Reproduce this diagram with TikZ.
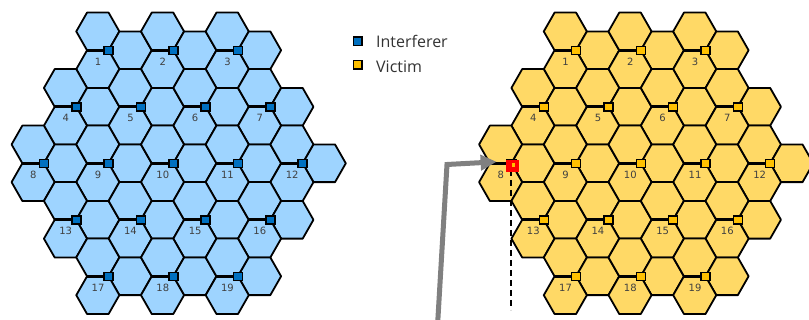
\documentclass[tikz,border=0pt]{standalone}
\usepackage{fontspec}
\setmainfont{DejaVu Sans}
\newfontfamily\legendfont{Open Sans}
\usetikzlibrary{arrows.meta}
\definecolor{cellblue}{RGB}{158,212,255}
\definecolor{cellgold}{RGB}{255,217,102}
\definecolor{mkblue}{RGB}{0,112,192}
\definecolor{mkgold}{RGB}{255,192,0}
\definecolor{labelgray}{RGB}{64,64,64}
\definecolor{arrowgray}{RGB}{128,128,128}
\def\Rx{21.55}
\def\Hh{18.85}
\newcommand{\hexcell}[3]{%
  \filldraw[cellstyle, fill=#3] (#1+\Rx,#2) -- ++(-\Rx/2,\Hh) -- ++(-\Rx,0) -- ++(-\Rx/2,-\Hh) -- ++(\Rx/2,-\Hh) -- ++(\Rx,0) -- cycle;}
\newcommand{\sitelist}{1/-1/-2, 2/0/-2, 3/1/-2, 4/-1.5/-1, 5/-0.5/-1, 6/0.5/-1, 7/1.5/-1, 8/-2/0, 9/-1/0, 10/0/0, 11/1/0, 12/2/0, 13/-1.5/1, 14/-0.5/1, 15/0.5/1, 16/1.5/1, 17/-1/2, 18/0/2, 19/1/2}
\tikzset{
  cellstyle/.style={draw=black, line width=1.8pt, line join=round},
  siteedge/.style={draw=black, line width=3pt},
  mk/.style={draw=black, line width=1.5pt, minimum width=9pt, minimum height=8pt, inner sep=0pt},
  lab/.style={text=labelgray, font=\fontsize{10}{12}\selectfont, inner sep=0pt},
  legtext/.style={text=black!80, font=\legendfont\fontsize{16}{19}\selectfont, inner sep=0pt, anchor=base west},
  dashline/.style={draw=black, line width=2pt, dash pattern=on 6pt off 4pt},
  grayarrow/.style={draw=arrowgray, line width=5pt, -{Triangle[length=16pt,width=15pt]}}
}
\newcommand{\panel}[4]{% offset, cell fill, marker fill, prefix
  \foreach \n/\c/\r in \sitelist {
    \pgfmathsetmacro\sx{#1+173.3+\c*64.7}
    \pgfmathsetmacro\sy{163.3+\r*56.5}
    \hexcell{\sx-\Rx/2}{\sy-\Hh}{#2}
    \hexcell{\sx+\Rx}{\sy}{#2}
    \hexcell{\sx-\Rx/2}{\sy+\Hh}{#2}
  }
  \foreach \n/\c/\r in \sitelist {
    \pgfmathsetmacro\sx{#1+173.3+\c*64.7}
    \pgfmathsetmacro\sy{163.3+\r*56.5}
    \draw[siteedge] (\sx,\sy) -- (\sx-\Rx,\sy);
    \node[mk, fill=#3] (#4m\n) at (\sx,\sy) {};
    \node[lab] (#4l\n) at (\sx-10.5,\sy+11.5) {\n};
  }
}
\begin{document}
\begin{tikzpicture}[x=1pt,y=-1pt]
\clip (0,0) rectangle (809,320);
\panel{0}{cellblue}{mkblue}{A}
\panel{467.5}{cellgold}{mkgold}{B}
% legend
\node[mk, fill=mkblue, minimum width=8.5pt, minimum height=8.5pt] (legI) at (357.5,41.5) {};
\node[legtext] (legIt) at (376,47.3) {Interferer};
\node[mk, fill=mkgold, minimum width=8.5pt, minimum height=8.5pt] (legV) at (357.5,65) {};
\node[legtext] (legVt) at (376,72.7) {Victim};
% victim highlight
\coordinate (dashend) at (511.3,310);
\draw[dashline] (511.3,170) -- (dashend);
\node[fill=red, minimum width=13pt, minimum height=12pt, inner sep=0pt] (victim) at (512.3,165.8) {};
\node[fill=mkgold, minimum width=3pt, minimum height=3.3pt, inner sep=0pt] (victimdot) at (513,165) {};
\coordinate (arrowstart) at (437.5,326);
\coordinate (arrowbend) at (447,164.5);
\draw[grayarrow] (arrowstart) -- (arrowbend) -- ([xshift=-9pt,yshift=4pt]victim.west);
\end{tikzpicture}
\end{document}
